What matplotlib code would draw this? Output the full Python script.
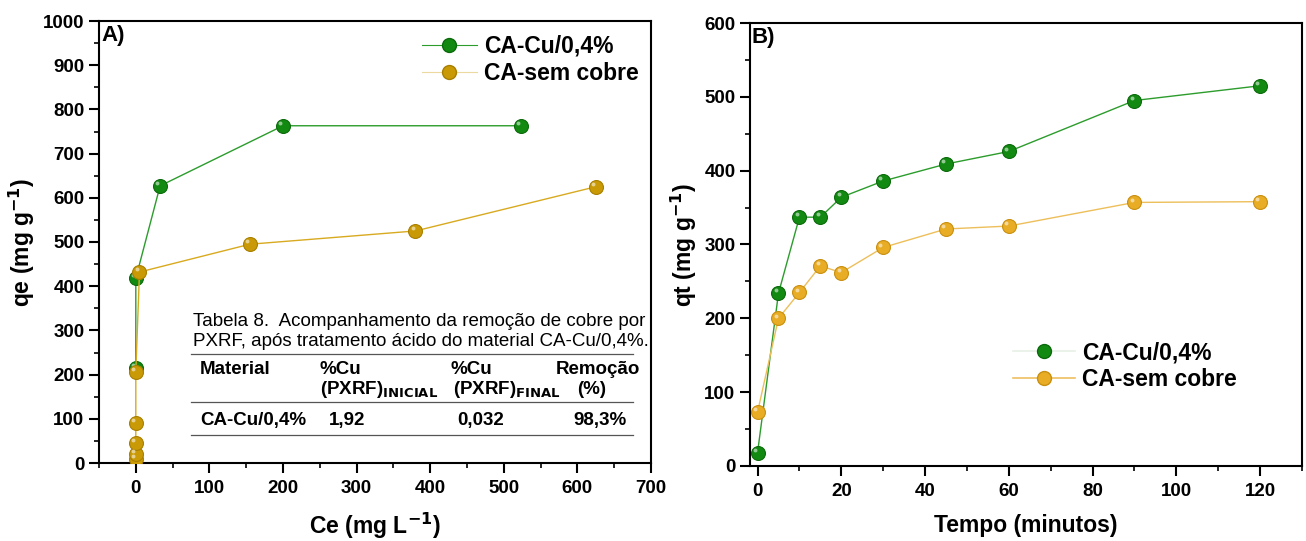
import matplotlib
matplotlib.use("Agg")
import matplotlib.pyplot as plt
from matplotlib.ticker import MultipleLocator
from matplotlib import transforms

plt.rcParams['font.family'] = ['Liberation Sans', 'DejaVu Sans']
plt.rcParams['font.weight'] = 'bold'
plt.rcParams['mathtext.fontset'] = 'custom'
plt.rcParams['mathtext.rm'] = 'Liberation Sans:bold'
plt.rcParams['mathtext.bf'] = 'Liberation Sans:bold'
plt.rcParams['mathtext.default'] = 'bf'

# ---- Data: panel A (isotherm) ----
ce_cu = [0, 0, 33, 200, 523]
qe_cu = [215, 418, 627, 763, 763]
ce_sem = [0, 0, 0, 0, 0, 5, 155, 380, 625]
qe_sem = [10, 20, 45, 90, 207, 432, 495, 525, 625]

# ---- Data: panel B (kinetics) ----
tempo = [0, 5, 10, 15, 20, 30, 45, 60, 90, 120]
qt_cu = [18, 234, 337, 337, 364, 386, 409, 426, 495, 515]
qt_sem = [73, 200, 235, 271, 262, 296, 321, 325, 357, 358]

labels = ['CA-Cu/0,4%', 'CA-sem cobre']

GREEN = '#128a12'
GREEN_E = '#0b6a0b'
GOLD_A = '#c99a06'
GOLD_AE = '#a87f00'
GOLD_B = '#e8ac25'
GOLD_BE = '#c98f10'

TICK_FS = 13.5
LAB_FS = 16.5
LEG_FS = 16.5

fig = plt.figure(figsize=(13.06, 5.41), dpi=100)
axA = fig.add_axes([99/1306, 78/541, 552/1306, 442/541])
axB = fig.add_axes([750/1306, 75/541, 552/1306, 443/541])


def sphere(ax, x, y, color, edge, lcolor, ms=10, lw=1.0, z=3):
    ax.plot(x, y, '-', color=lcolor, lw=lw, zorder=z)
    ax.plot(x, y, 'o', color=color, mec=edge, mew=0.8, ms=ms, zorder=z + 0.1)
    hl = transforms.offset_copy(ax.transData, fig=fig, x=-2.0, y=2.0, units='points')
    ax.plot(x, y, 'o', color='white', alpha=0.55, ms=ms * 0.28, mew=0,
            transform=hl, zorder=z + 0.2)


def style(ax):
    for s in ax.spines.values():
        s.set_linewidth(1.5)
    ax.tick_params(axis='both', which='major', direction='out', length=7, width=1.5,
                   labelsize=TICK_FS, pad=3.5)
    ax.tick_params(axis='both', which='minor', direction='out', length=3.6, width=1.2)
    ax.tick_params(axis='x', which='major', pad=5)
    for lab in ax.get_xticklabels() + ax.get_yticklabels():
        lab.set_fontweight('bold')


# Panel A
sphere(axA, ce_cu, qe_cu, GREEN, GREEN_E, '#2c9c2c')
sphere(axA, ce_sem, qe_sem, GOLD_A, GOLD_AE, '#d8aa20', z=4)
axA.set_xlim(-50, 700)
axA.set_ylim(0, 1000)
axA.xaxis.set_major_locator(MultipleLocator(100))
axA.xaxis.set_minor_locator(MultipleLocator(50))
axA.yaxis.set_major_locator(MultipleLocator(100))
axA.yaxis.set_minor_locator(MultipleLocator(50))
style(axA)
axA.set_xlabel('Ce (mg L$^{\\mathsf{-1}}$)', fontsize=LAB_FS, fontweight='bold', labelpad=10)
axA.set_ylabel('qe (mg g$^{\\mathsf{-1}}$)', fontsize=LAB_FS, fontweight='bold', labelpad=4)
axA.text(0.005, 0.99, 'A)', transform=axA.transAxes, fontsize=16, fontweight='bold',
         va='top', ha='left')

hA = [plt.Line2D([], [], color='#2c9c2c', lw=0.8, marker='o', ms=10, mfc=GREEN, mec=GREEN_E),
      plt.Line2D([], [], color='#ecd9a0', lw=0.8, marker='o', ms=10, mfc=GOLD_A, mec=GOLD_AE)]
axA.legend(hA, labels, loc='upper left', bbox_to_anchor=(0.56, 1.0), frameon=False,
           prop={'size': LEG_FS, 'weight': 'bold'}, handlelength=2.4, handletextpad=0.3,
           labelspacing=0.18, borderaxespad=0.2)

# Table inside panel A
tx = axA.transAxes
def fx(px):
    return (px - 99) / 552
def fy(py):
    return (463 - py) / 442

TFS = 13.5
axA.text(fx(193), fy(322), 'Tabela 8.  Acompanhamento da remoção de cobre por',
         transform=tx, fontsize=TFS, fontweight='normal', va='center', ha='left')
axA.text(fx(193), fy(342), 'PXRF, após tratamento ácido do material CA-Cu/0,4%.',
         transform=tx, fontsize=TFS, fontweight='normal', va='center', ha='left')
for yy in (354, 402, 435):
    axA.plot([fx(191), fx(633)], [fy(yy), fy(yy)], color='#555555', lw=0.9,
             transform=tx, clip_on=False)
axA.text(fx(200), fy(370), 'Material', transform=tx, fontsize=TFS, va='center', ha='left')
axA.text(fx(320), fy(370), '%Cu', transform=tx, fontsize=TFS, va='center', ha='left')
axA.text(fx(320), fy(389), '(PXRF)$_{\\mathsf{INICIAL}}$', transform=tx, fontsize=TFS,
         va='center', ha='left')
axA.text(fx(451), fy(370), '%Cu', transform=tx, fontsize=TFS, va='center', ha='left')
axA.text(fx(453), fy(389), '(PXRF)$_{\\mathsf{FINAL}}$', transform=tx, fontsize=TFS,
         va='center', ha='left')
axA.text(fx(640), fy(370), 'Remoção', transform=tx, fontsize=TFS, va='center', ha='right')
axA.text(fx(592), fy(389), '(%)', transform=tx, fontsize=TFS, va='center', ha='center')
axA.text(fx(200), fy(421), 'CA-Cu/0,4%', transform=tx, fontsize=TFS, va='center', ha='left')
axA.text(fx(329), fy(421), '1,92', transform=tx, fontsize=TFS, va='center', ha='left')
axA.text(fx(457), fy(421), '0,032', transform=tx, fontsize=TFS, va='center', ha='left')
axA.text(fx(627), fy(421), '98,3%', transform=tx, fontsize=TFS, va='center', ha='right')

# Panel B
sphere(axB, tempo, qt_cu, GREEN, GREEN_E, '#2c9c2c')
sphere(axB, tempo, qt_sem, GOLD_B, GOLD_BE, '#edbf5a')
axB.set_xlim(-1.8, 130)
axB.set_ylim(0, 600)
axB.xaxis.set_major_locator(MultipleLocator(20))
axB.xaxis.set_minor_locator(MultipleLocator(10))
axB.yaxis.set_major_locator(MultipleLocator(100))
axB.yaxis.set_minor_locator(MultipleLocator(50))
style(axB)
axB.set_xlabel('Tempo (minutos)', fontsize=LAB_FS, fontweight='bold', labelpad=10)
axB.set_ylabel('qt (mg g$^{\\mathsf{-1}}$)', fontsize=LAB_FS, fontweight='bold', labelpad=4)
axB.text(0.003, 0.99, 'B)', transform=axB.transAxes, fontsize=16, fontweight='bold',
         va='top', ha='left')

hB = [plt.Line2D([], [], color='#e6f0e6', lw=1.2, marker='o', ms=10, mfc=GREEN, mec=GREEN_E),
      plt.Line2D([], [], color='#eec060', lw=1.2, marker='o', ms=10, mfc=GOLD_B, mec=GOLD_BE)]
axB.legend(hB, labels, loc='center left', bbox_to_anchor=(0.46, 0.225), frameon=False,
           prop={'size': LEG_FS, 'weight': 'bold'}, handlelength=2.7, handletextpad=0.3,
           labelspacing=0.18, borderaxespad=0.0)

fig.savefig('out.png', dpi=100)
